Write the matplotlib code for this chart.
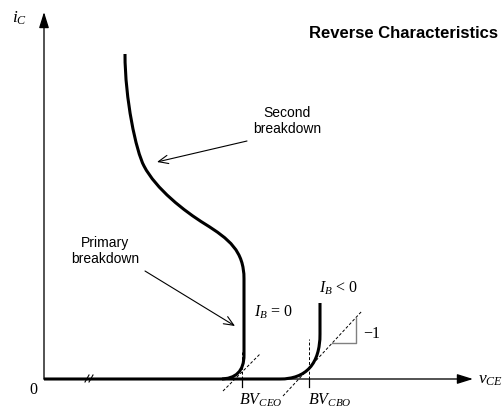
import matplotlib
matplotlib.use("Agg")
import matplotlib.pyplot as plt
from matplotlib.path import Path
from matplotlib.patches import PathPatch

plt.rcParams["mathtext.fontset"] = "custom"
plt.rcParams["mathtext.rm"] = "Liberation Serif"
plt.rcParams["mathtext.it"] = "Liberation Serif:italic"
plt.rcParams["font.family"] = ["Liberation Sans", "DejaVu Sans"]

# --- curve geometry (v_CE horizontal, i_C vertical, arbitrary units) ---
# I_B = 0 curve: baseline, primary breakdown knee, vertical rise, second breakdown
ib0_vertices = [
    (0, 0), (176, 0),
    (192, 0), (200, 8), (200, 24),
    (200, 100),
    (200, 128), (185, 140), (161, 155),
    (140, 168), (112, 190), (100, 213),
    (92, 228), (81, 280), (81, 325),
]
ib0_codes = [Path.MOVETO, Path.LINETO,
             Path.CURVE4, Path.CURVE4, Path.CURVE4,
             Path.LINETO,
             Path.CURVE4, Path.CURVE4, Path.CURVE4,
             Path.CURVE4, Path.CURVE4, Path.CURVE4,
             Path.CURVE4, Path.CURVE4, Path.CURVE4]

# I_B < 0 curve: knee near BV_CBO and vertical rise
ibn_vertices = [
    (178, 0), (236, 0),
    (262, 0), (276, 15), (276, 45),
    (276, 76),
]
ibn_codes = [Path.MOVETO, Path.LINETO,
             Path.CURVE4, Path.CURVE4, Path.CURVE4,
             Path.LINETO]

# breakdown voltages on the v_CE axis
bv_ceo = 198
bv_cbo = 265
bv_ceo_top = 27
bv_cbo_top = 40

# tangent (slope) construction lines
tangent_ceo = ([179, 216], [-12, 25])
tangent_cbo = ([239, 318], [-17, 68])
slope_triangle = ([288, 312, 312], [36, 36, 61])

axis_x_end = 429
axis_y_end = 367

fig = plt.figure(figsize=(5.03, 4.10), dpi=100)
ax = fig.add_axes([0, 0, 1, 1])
ax.set_xlim(-44, 459)
ax.set_ylim(-30, 380)
ax.axis("off")

# axes with arrow heads
arrow_kw = dict(arrowstyle="-|>,head_length=0.8,head_width=0.25", lw=0.95,
                color="black", shrinkA=0, shrinkB=0, mutation_scale=12)
ax.annotate("", xy=(axis_x_end, 0), xytext=(0, 0), arrowprops=arrow_kw)
ax.annotate("", xy=(0, axis_y_end), xytext=(0, 0), arrowprops=arrow_kw)

# characteristic curves
for verts, codes in [(ib0_vertices, ib0_codes), (ibn_vertices, ibn_codes)]:
    ax.add_patch(PathPatch(Path(verts, codes), facecolor="none",
                           edgecolor="black", lw=2.2, capstyle="butt",
                           joinstyle="round", zorder=3))

# axis break marks
for x0 in (41, 45):
    ax.plot([x0, x0 + 4], [-3, 4], color="black", lw=0.8, zorder=4)

# breakdown voltage markers
for bv, top in [(bv_ceo, bv_ceo_top), (bv_cbo, bv_cbo_top)]:
    ax.plot([bv, bv], [0, top], color="black", lw=0.7, ls=(0, (3, 2)), zorder=2)
    ax.plot([bv, bv], [-8, 0], color="black", lw=0.9, zorder=2)

for xs, ys in (tangent_ceo, tangent_cbo):
    ax.plot(xs, ys, color="black", lw=0.7, ls=(0, (3, 2)), zorder=2)
ax.plot(*slope_triangle, color="#808080", lw=1.0, zorder=2)

# labels
serif = 11.5
sfam = ["Liberation Serif", "DejaVu Serif"]
ax.text(-24, 362, r"$i_C$", fontsize=12.5, ha="center", va="center")
ax.text(-11, -10, "0", fontsize=serif, family=sfam, ha="center", va="center")
ax.text(434, -1, r"$v_{CE}$", fontsize=12.5, ha="left", va="center")
ax.text(bv_ceo - 3, -29.5, r"$BV_{CEO}$", fontsize=serif, ha="left", va="bottom")
ax.text(bv_cbo - 1, -29.5, r"$BV_{CBO}$", fontsize=serif, ha="left", va="bottom")
ax.text(210, 68, r"$I_B$ = 0", fontsize=serif, family=sfam, ha="left", va="center")
ax.text(275, 92, r"$I_B$ < 0", fontsize=serif, family=sfam, ha="left", va="center")
ax.text(319, 46, "\u22121", fontsize=serif, family=sfam, ha="left", va="center")

ax.text(454, 347, "Reverse Characteristics", fontsize=12, fontweight="bold",
        ha="right", va="center")
ax.text(243, 259, "Second\nbreakdown", fontsize=10, ha="center", va="center",
        multialignment="center", linespacing=1.15)
ax.text(61, 129, "Primary\nbreakdown", fontsize=10, ha="center", va="center",
        multialignment="center", linespacing=1.15)

note_kw = dict(arrowstyle="->,head_length=0.7,head_width=0.3", lw=0.8,
               color="black", shrinkA=0, shrinkB=0, mutation_scale=10)
ax.annotate("", xy=(113, 217), xytext=(203, 238), arrowprops=note_kw)
ax.annotate("", xy=(191, 53), xytext=(101, 108), arrowprops=note_kw)

fig.savefig("out.png", dpi=100, facecolor="white")
